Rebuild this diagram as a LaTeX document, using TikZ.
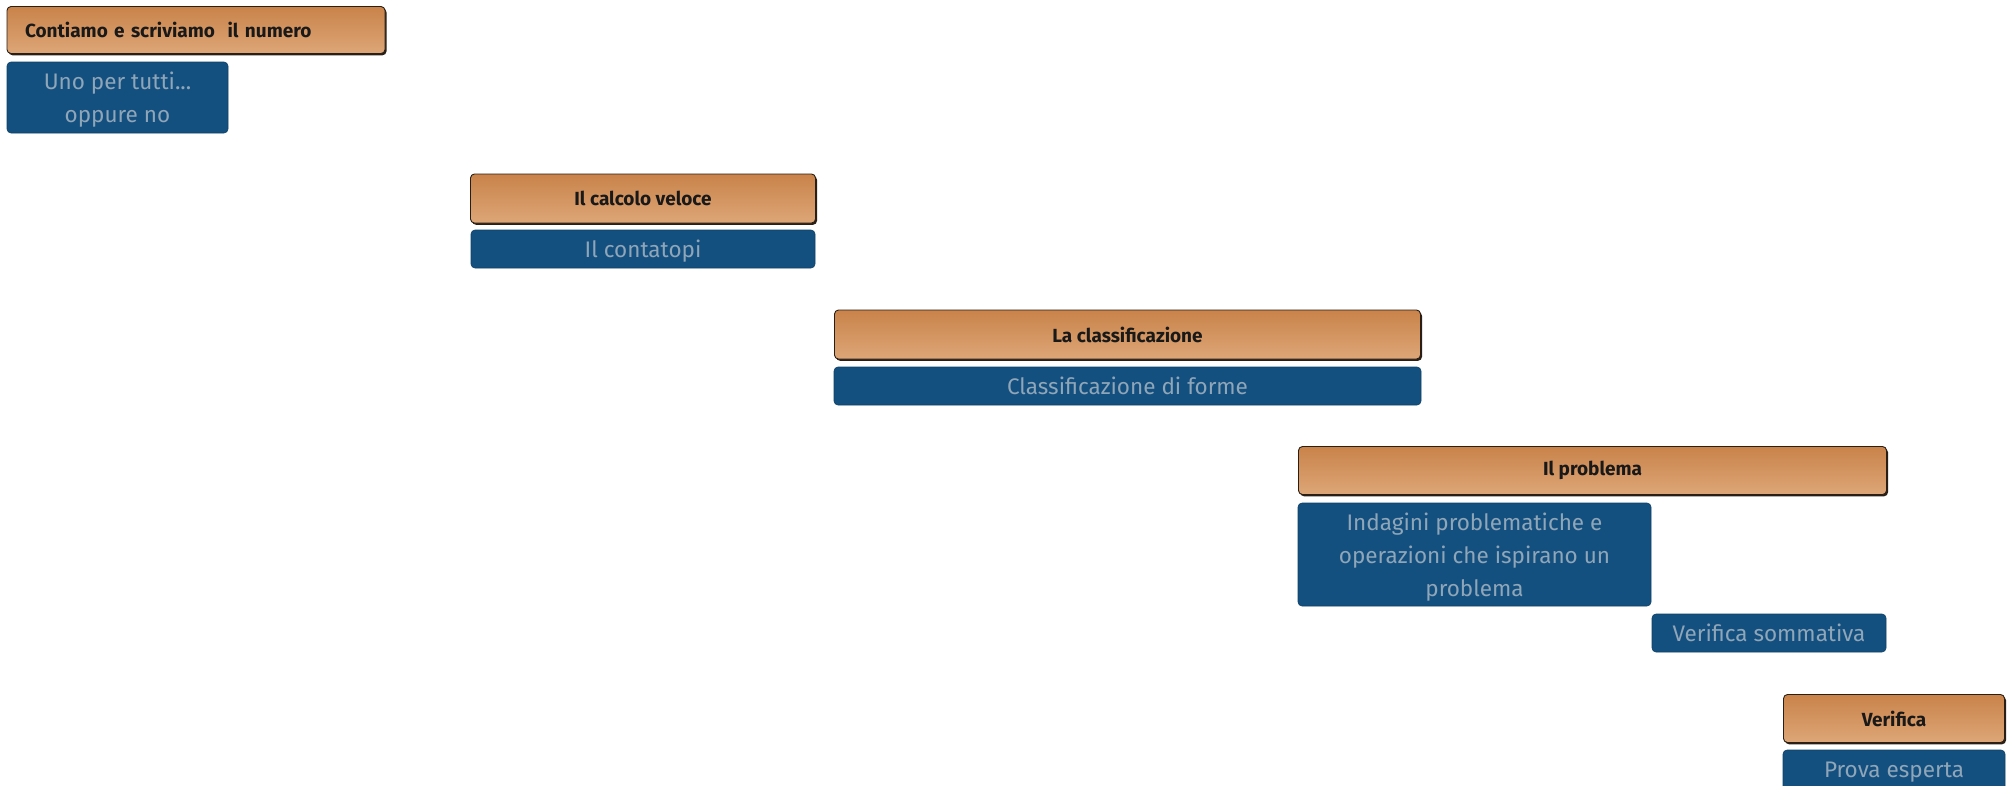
\documentclass[tikz,border=0pt]{standalone}
\usepackage{fontspec}
\setmainfont{Fira Sans}
\definecolor{otop}{HTML}{C9834A}
\definecolor{obot}{HTML}{DDA677}
\definecolor{bfill}{HTML}{14507F}
\definecolor{btext}{HTML}{8FA5B8}
\definecolor{oedge}{HTML}{2A1F16}
\tikzset{
  ohead/.style={rectangle, rounded corners=4pt, inner sep=0pt,
    top color=otop, bottom color=obot, draw=oedge, line width=0.9pt,
    preaction={fill=oedge, transform canvas={xshift=1.5pt,yshift=-1.8pt}},
    font=\fontsize{19}{22}\selectfont\bfseries, text=black!90},
  bsub/.style={rectangle, rounded corners=4pt, inner sep=0pt,
    fill=bfill, draw=bfill!80!black, line width=0.6pt, align=center,
    text depth=0pt,
    font=\fontsize{22.5}{33}\selectfont, text=btext}
}
\begin{document}
\begin{tikzpicture}[x=1pt,y=1pt]
\useasboundingbox (0,0) rectangle (2009,-785);
% box 1
\node[ohead, minimum width=378, minimum height=47, text width=342, align=left] (o1) at (196,-30) {Contiamo e scriviamo\ \ il numero};
\node[bsub, minimum width=221, minimum height=71] (b1) at (117.5,-97.5) {Uno per tutti...\\oppure no};
% box 2
\node[ohead, minimum width=345, minimum height=49] (o2) at (643,-198.5) {Il calcolo veloce};
\node[bsub, minimum width=344, minimum height=38] (b2) at (643,-249) {Il contatopi};
% box 3
\node[ohead, minimum width=586, minimum height=49] (o3) at (1127.5,-334.5) {La classificazione};
\node[bsub, minimum width=587, minimum height=38] (b3) at (1127.5,-386) {Classificazione di forme};
% box 4
\node[ohead, minimum width=588, minimum height=48] (o4) at (1592.5,-470.5) {Il problema};
\node[bsub, minimum width=353, minimum height=103] (b4a) at (1474.5,-554.5) {Indagini problematiche e\\operazioni che ispirano un\\problema};
\node[bsub, minimum width=234, minimum height=38] (b4b) at (1769,-633) {Verifica sommativa};
% box 5
\node[ohead, minimum width=221, minimum height=48] (o5) at (1894,-718.5) {Verifica};
\node[bsub, minimum width=222, minimum height=40] (b5) at (1894,-770) {Prova esperta};
\end{tikzpicture}
\end{document}
